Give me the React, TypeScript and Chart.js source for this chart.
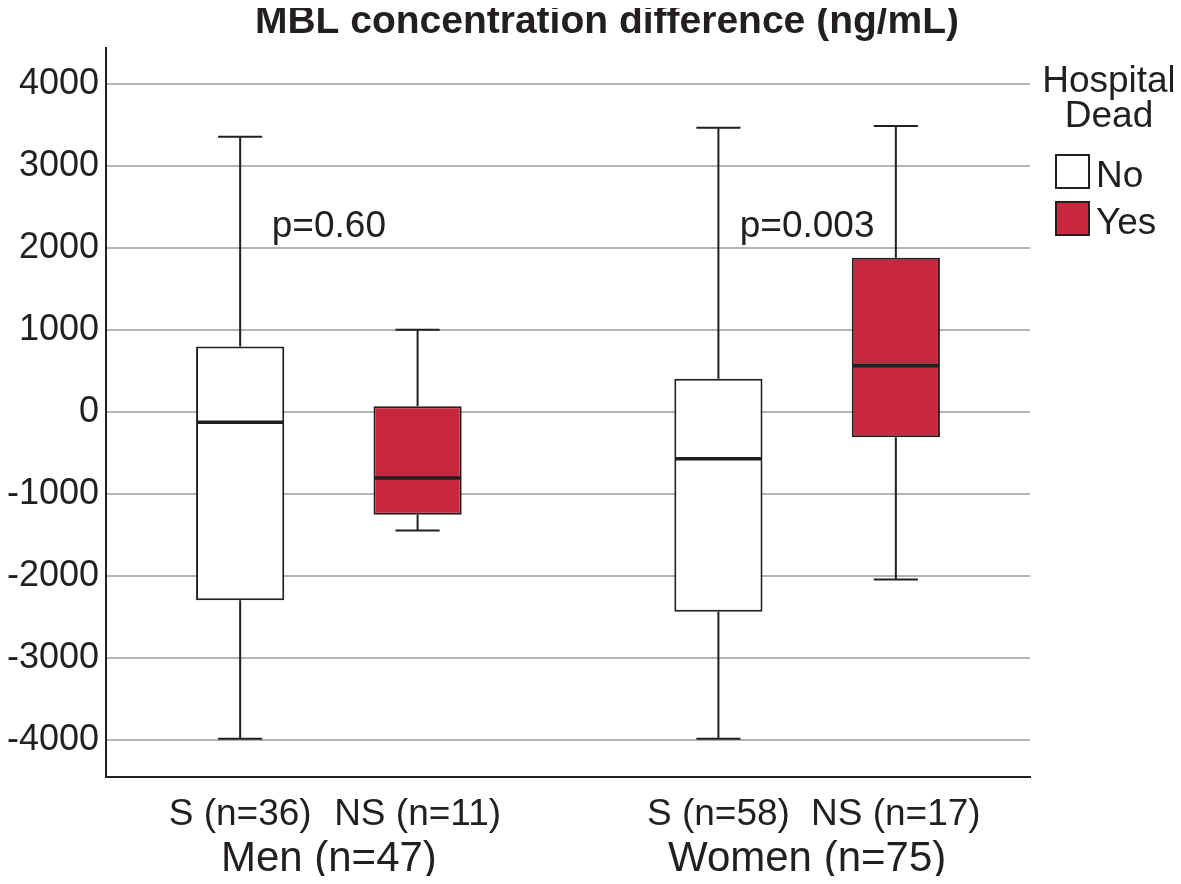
import React, { useEffect, useRef } from "react";
import { Chart, registerables } from "chart.js";

Chart.register(...registerables);

// ---- data ----
const groupLabels = ["Men (n=47)", "Women (n=75)"];
const seriesNames = ["No", "Yes"];
const noLabels = ["S (n=36)", "S (n=58)"];
const yesLabels = ["NS (n=11)", "NS (n=17)"];

const noMin = [-3980, -3980];
const noQ1 = [-2290, -2430];
const noMedian = [-122, -566];
const noQ3 = [803, 410];
const noMax = [3360, 3470];

const yesMin = [-1442, -2037];
const yesQ1 = [-1248, -304];
const yesMedian = [-800, 568];
const yesQ3 = [73, 1885];
const yesMax = [1006, 3492];

const pValues = ["p=0.60", "p=0.003"];
const yTicks = [-4000, -3000, -2000, -1000, 0, 1000, 2000, 3000, 4000];
const titleText = "MBL concentration difference (ng/mL)";
const legendTitle = ["Hospital", "Dead"];

// ---- styles ----
const INK = "#231F20";
const RED = "#C8283F";
const GRID = "#B4B4B4";
const FONT = "'Liberation Sans', Arial, Helvetica, sans-serif";
const P_VALUE_Y = 2140;

const stats = [
  { min: noMin, q1: noQ1, med: noMedian, q3: noQ3, max: noMax, sub: noLabels },
  { min: yesMin, q1: yesQ1, med: yesMedian, q3: yesQ3, max: yesMax, sub: yesLabels },
];

const boxPlugin = {
  id: "boxExtras",
  afterDatasetsDraw(chart: any) {
    const ctx = chart.ctx;
    const y = chart.scales.y;
    ctx.save();
    ctx.strokeStyle = INK;
    stats.forEach((s, di) => {
      const meta = chart.getDatasetMeta(di);
      meta.data.forEach((el: any, i: number) => {
        const { x, width } = el.getProps(["x", "width"], true);
        const yMin = y.getPixelForValue(s.min[i]);
        const yQ1 = y.getPixelForValue(s.q1[i]);
        const yMed = y.getPixelForValue(s.med[i]);
        const yQ3 = y.getPixelForValue(s.q3[i]);
        const yMax = y.getPixelForValue(s.max[i]);
        ctx.lineWidth = 2;
        ctx.beginPath();
        ctx.moveTo(x, yQ3);
        ctx.lineTo(x, yMax);
        ctx.moveTo(x - width / 4, yMax);
        ctx.lineTo(x + width / 4, yMax);
        ctx.moveTo(x, yQ1);
        ctx.lineTo(x, yMin);
        ctx.moveTo(x - width / 4, yMin);
        ctx.lineTo(x + width / 4, yMin);
        ctx.stroke();
        ctx.lineWidth = 3.5;
        ctx.beginPath();
        ctx.moveTo(x - width / 2 + 1, yMed);
        ctx.lineTo(x + width / 2 - 1, yMed);
        ctx.stroke();
      });
    });
    ctx.restore();
  },
  afterDraw(chart: any) {
    const ctx = chart.ctx;
    const y = chart.scales.y;
    const xs = chart.scales.x;
    ctx.save();
    ctx.fillStyle = INK;
    // title
    ctx.font = `bold 39px ${FONT}`;
    ctx.textAlign = "center";
    ctx.textBaseline = "alphabetic";
    ctx.fillText(titleText, 599, 25);
    // p values
    ctx.font = `37px ${FONT}`;
    pValues.forEach((p, i) => {
      ctx.fillText(p, xs.getPixelForValue(i + 1), y.getPixelForValue(P_VALUE_Y));
    });
    // sub labels
    ctx.font = `37px ${FONT}`;
    stats.forEach((s, di) => {
      const meta = chart.getDatasetMeta(di);
      meta.data.forEach((el: any, i: number) => {
        ctx.fillText(s.sub[i], el.x, chart.chartArea.bottom + 48);
      });
    });
    // legend
    const lx = 1101;
    ctx.font = `37px ${FONT}`;
    ctx.fillText(legendTitle[0], lx, 84);
    ctx.fillText(legendTitle[1], lx, 119);
    ctx.textAlign = "left";
    chart.data.datasets.forEach((ds: any, di: number) => {
      const top = 147 + di * 47;
      ctx.fillStyle = ds.backgroundColor;
      ctx.fillRect(1048, top, 33, 33);
      ctx.strokeStyle = INK;
      ctx.lineWidth = 2;
      ctx.strokeRect(1048, top, 33, 33);
      ctx.fillStyle = INK;
      ctx.fillText(ds.label, 1088, top + 32);
    });
    ctx.restore();
  },
};

export default function App() {
  const ref = useRef<HTMLCanvasElement | null>(null);
  useEffect(() => {
    if (!ref.current) return;
    const chart = new Chart(ref.current, {
      type: "bar",
      data: {
        datasets: stats.map((s, di) => ({
          label: seriesNames[di],
          data: groupLabels.map((_, i) => ({ x: i + 1, y: [s.q1[i], s.q3[i]] })),
          backgroundColor: di === 0 ? "#FFFFFF" : RED,
          borderColor: INK,
          borderWidth: 2,
          borderSkipped: false,
          categoryPercentage: 0.742,
          barPercentage: 0.497,
        })),
      } as any,
      options: {
        animation: false,
        responsive: false,
        layout: { padding: { top: 40, right: 143, left: 0, bottom: 0 } },
        plugins: { legend: { display: false }, title: { display: false }, tooltip: { enabled: false } },
        events: [],
        scales: {
          x: {
            type: "linear",
            offset: false,
            min: 0.534,
            max: 2.466,
            afterBuildTicks: (axis: any) => {
              axis.ticks = groupLabels.map((_, i) => ({ value: i + 1 }));
            },
            afterFit: (axis: any) => {
              axis.height = 99;
            },
            ticks: {
              callback: (_v: any, i: number) => groupLabels[i],
              font: { family: FONT, size: 42 },
              color: INK,
              padding: 57,
              maxRotation: 0,
              autoSkip: false,
            },
            grid: { display: false, drawTicks: false, offset: false },
            border: { display: true, color: INK, width: 2 },
          },
          y: {
            min: -4446,
            max: 4442,
            afterBuildTicks: (axis: any) => {
              axis.ticks = yTicks.map((v) => ({ value: v }));
            },
            afterFit: (axis: any) => {
              axis.width = 98;
            },
            ticks: {
              font: { family: FONT, size: 36 },
              color: INK,
              padding: 7,
              callback: (v: any) => String(v),
            },
            grid: { color: GRID, lineWidth: 2, drawTicks: false },
            border: { display: true, color: INK, width: 2 },
          },
        },
      } as any,
      plugins: [boxPlugin],
    });
    return () => chart.destroy();
  }, []);
  return <canvas ref={ref} width={1165} height={868} style={{ display: "block" }} />;
}
